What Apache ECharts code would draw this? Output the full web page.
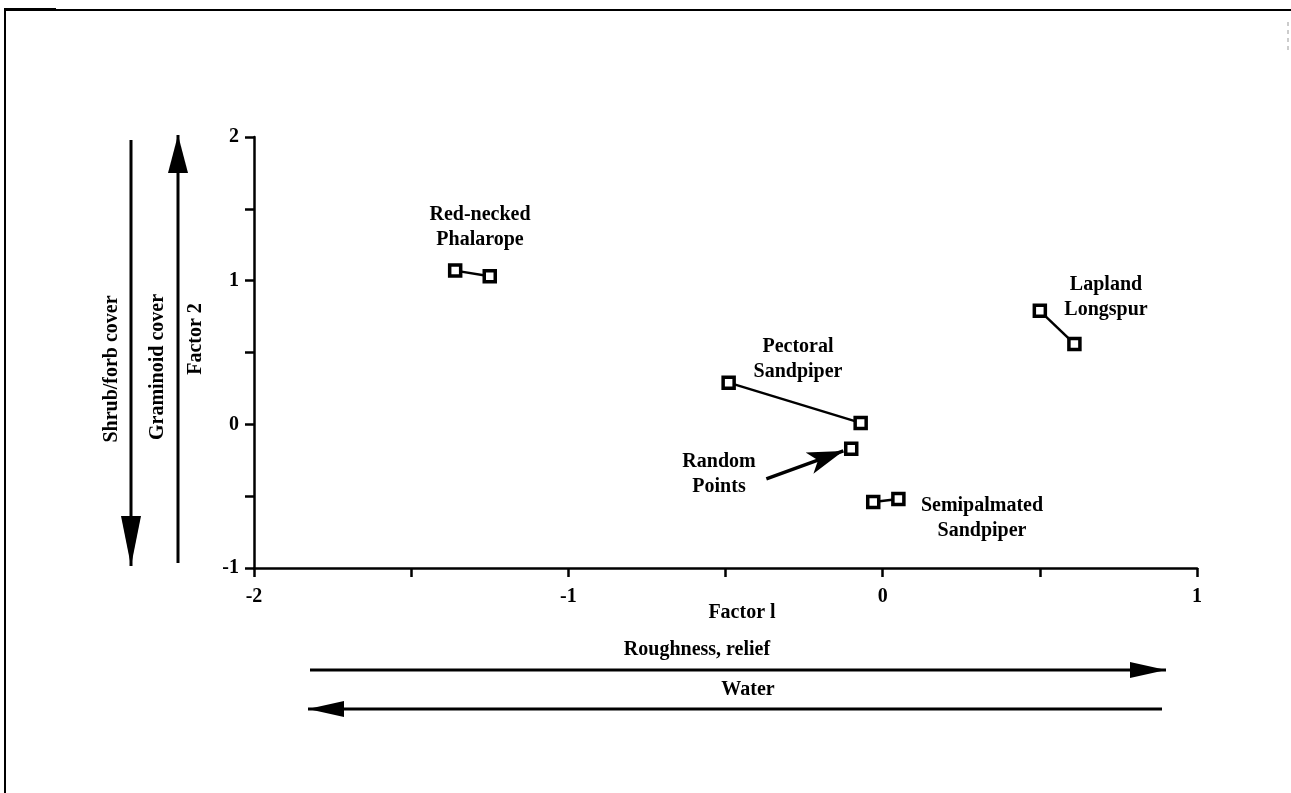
<!DOCTYPE html>
<html>
<head>
<meta charset="utf-8">
<script src="https://cdn.jsdelivr.net/npm/echarts@6/dist/echarts.min.js"></script>
<style>html,body{margin:0;padding:0;background:#fff}#c{width:1291px;height:793px}</style>
</head>
<body>
<div id="c"></div>
<script>
// ---- data ----
var xTicks = [-2, -1, 0, 1];
var yTicks = [-1, 0, 1, 2];
var phalarope = [[-1.36, 1.07], [-1.25, 1.03]];
var longspur = [[0.50, 0.79], [0.61, 0.56]];
var pectoral = [[-0.49, 0.29], [-0.07, 0.01]];
var randomPts = [[-0.10, -0.17]];
var semipalmated = [[-0.03, -0.54], [0.05, -0.52]];
var randomArrow = [[-0.37, -0.38], [-0.125, -0.185]];
var xTitle = 'Factor l';
var yTitle = 'Factor 2';

var FONT = 'Liberation Serif';
var FS = 20;
var chart = echarts.init(document.getElementById('c'), null, {renderer: 'canvas'});

function pairSeries(name, d) {
  return {
    type: 'line', name: name, data: d,
    symbol: 'rect', symbolSize: 11, showSymbol: true,
    lineStyle: {color: '#000', width: 2.5},
    itemStyle: {color: '#fff', borderColor: '#000', borderWidth: 3.5},
    silent: true, z: 3
  };
}
function txt(x, y, s, extra) {
  var o = {type: 'text', x: x, y: y, style: {text: s, font: 'bold ' + FS + 'px "' + FONT + '"', fill: '#000', textAlign: 'center', textVerticalAlign: 'middle', lineHeight: 25}};
  if (extra) for (var k in extra) o[k] = extra[k];
  return o;
}
function hArrow(x1, x2, y, headLeft) {
  var els = [{type: 'line', shape: {x1: x1, y1: y, x2: x2, y2: y}, style: {stroke: '#000', lineWidth: 3}}];
  if (headLeft) {
    els.push({type: 'polygon', shape: {points: [[x1, y], [x1 + 36, y - 8], [x1 + 36, y + 8]]}, style: {fill: '#000'}});
  } else {
    els.push({type: 'polygon', shape: {points: [[x2, y], [x2 - 36, y - 8], [x2 - 36, y + 8]]}, style: {fill: '#000'}});
  }
  return els;
}
function vArrow(x, y1, y2, headUp) {
  var els = [{type: 'line', shape: {x1: x, y1: y1, x2: x, y2: y2}, style: {stroke: '#000', lineWidth: 3}}];
  if (headUp) {
    els.push({type: 'polygon', shape: {points: [[x, y1], [x - 10, y1 + 38], [x + 10, y1 + 38]]}, style: {fill: '#000'}});
  } else {
    els.push({type: 'polygon', shape: {points: [[x, y2], [x - 10, y2 - 50], [x + 10, y2 - 50]]}, style: {fill: '#000'}});
  }
  return els;
}

var graphics = [];
// frame
graphics.push({type: 'line', shape: {x1: 4, y1: 10, x2: 1291, y2: 10}, style: {stroke: '#000', lineWidth: 2}});
graphics.push({type: 'line', shape: {x1: 4, y1: 9, x2: 56, y2: 9}, style: {stroke: '#000', lineWidth: 2}});
graphics.push({type: 'line', shape: {x1: 5, y1: 10, x2: 5, y2: 793}, style: {stroke: '#000', lineWidth: 2}});
graphics.push({type: 'line', shape: {x1: 1288, y1: 22, x2: 1288, y2: 52}, style: {stroke: '#999', lineWidth: 1, lineDash: [4, 4]}});
// side arrows
graphics = graphics.concat(vArrow(131, 140, 566, false));
graphics = graphics.concat(vArrow(178, 135, 563, true));
graphics = graphics.concat(hArrow(310, 1166, 670, false));
graphics = graphics.concat(hArrow(308, 1162, 709, true));
// texts
graphics.push(txt(112, 369, 'Shrub/forb cover', {rotation: Math.PI / 2}));
graphics.push(txt(158, 367, 'Graminoid cover', {rotation: Math.PI / 2}));
graphics.push(txt(196, 339, yTitle, {rotation: Math.PI / 2}));
graphics.push(txt(742, 613, xTitle));
graphics.push(txt(697, 650, 'Roughness, relief'));
graphics.push(txt(748, 690, 'Water'));
graphics.push(txt(480, 227, 'Red-necked\nPhalarope'));
graphics.push(txt(1106, 297, 'Lapland\nLongspur'));
graphics.push(txt(798, 359, 'Pectoral\nSandpiper'));
graphics.push(txt(719, 474, 'Random\nPoints'));
graphics.push(txt(982, 518, 'Semipalmated\nSandpiper'));

var option = {
  backgroundColor: '#fff',
  animation: false,
  textStyle: {fontFamily: FONT},
  grid: {left: 254, right: 94, top: 137, bottom: 225, containLabel: false},
  xAxis: {
    type: 'value', min: -2, max: 1, interval: 0.5,
    axisLine: {show: true, onZero: false, lineStyle: {color: '#000', width: 2.5}},
    axisTick: {show: true, length: 9, inside: false, lineStyle: {color: '#000', width: 2.5}},
    axisLabel: {
      margin: 19, color: '#000', fontFamily: FONT, fontWeight: 'bold', fontSize: FS,
      formatter: function (v) { return xTicks.indexOf(v) >= 0 ? String(v) : ''; }
    },
    splitLine: {show: false}
  },
  yAxis: {
    type: 'value', min: -1, max: 2, interval: 0.5,
    axisLine: {show: true, onZero: false, lineStyle: {color: '#000', width: 2.5}},
    axisTick: {show: true, length: 9, inside: false, lineStyle: {color: '#000', width: 2.5}},
    axisLabel: {
      margin: 15, color: '#000', fontFamily: FONT, fontWeight: 'bold', fontSize: FS,
      formatter: function (v) { return yTicks.indexOf(v) >= 0 ? String(v) : ''; }
    },
    splitLine: {show: false}
  },
  series: [
    pairSeries('Red-necked Phalarope', phalarope),
    pairSeries('Lapland Longspur', longspur),
    pairSeries('Pectoral Sandpiper', pectoral),
    pairSeries('Semipalmated Sandpiper', semipalmated),
    {
      type: 'line', name: 'Random Points', data: randomPts,
      symbol: 'rect', symbolSize: 11,
      lineStyle: {width: 0},
      itemStyle: {color: '#fff', borderColor: '#000', borderWidth: 3.5},
      z: 3,
      markLine: {
        silent: true, animation: false,
        symbol: ['none', 'arrow'], symbolSize: [17, 36],
        label: {show: false},
        lineStyle: {color: '#000', width: 3.5, type: 'solid'},
        data: [[{coord: randomArrow[0]}, {coord: randomArrow[1]}]]
      }
    }
  ],
  graphic: graphics
};
chart.setOption(option);
</script>
</body>
</html>
